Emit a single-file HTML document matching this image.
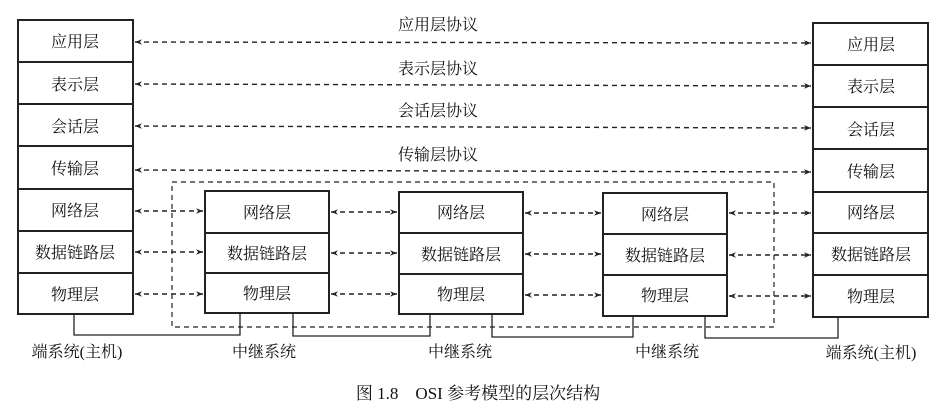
<!DOCTYPE html>
<html><head><meta charset="utf-8"><style>
html,body{margin:0;padding:0;background:#fff;}
svg text{font-family:"Liberation Serif","Noto Serif CJK SC","Noto Sans CJK SC",serif;fill:#111;}
</style></head><body>
<svg width="951" height="409" viewBox="0 0 951 409" xmlns="http://www.w3.org/2000/svg">
<defs>
<marker id="ah" viewBox="0 0 10 10" refX="10" refY="5" markerWidth="11" markerHeight="7" orient="auto-start-reverse" markerUnits="userSpaceOnUse"><path d="M0,1 L10,5 L0,9 L3,5 z" fill="#222"/></marker>
</defs>
<g stroke="#222" fill="none">
<rect x="18" y="20" width="115" height="294" stroke-width="2"/>
<path d="M18 62H133M18 104H133M18 146H133M18 189H133M18 231H133M18 273H133" stroke-width="2"/>
<rect x="813" y="23" width="115" height="294" stroke-width="2"/>
<path d="M813 65H928M813 107H928M813 149H928M813 192H928M813 233H928M813 275H928" stroke-width="2"/>
<rect x="205" y="191" width="124" height="122" stroke-width="2"/>
<path d="M205 233H329M205 273H329" stroke-width="2"/>
<rect x="399" y="192" width="124" height="122" stroke-width="2"/>
<path d="M399 233H523M399 274H523" stroke-width="2"/>
<rect x="603" y="193" width="124" height="123" stroke-width="2"/>
<path d="M603 234H727M603 275H727" stroke-width="2"/>
<rect x="172" y="182" width="602" height="145" stroke-width="1.2" stroke-dasharray="5,4"/>
<path d="M74 314V335H240V313M293 313V336H430V314M492 314V337H633V316M705 316V338H838V317" stroke-width="1.3"/>
<g stroke-width="1.4" stroke-dasharray="5,4" marker-start="url(#ah)" marker-end="url(#ah)">
<line x1="135" y1="42" x2="811" y2="43"/>
<line x1="135" y1="84" x2="811" y2="86"/>
<line x1="135" y1="126" x2="811" y2="128"/>
<line x1="135" y1="170" x2="811" y2="172"/>
<line x1="135" y1="211" x2="203" y2="211"/>
<line x1="135" y1="252" x2="203" y2="252"/>
<line x1="135" y1="294" x2="203" y2="294"/>
<line x1="331" y1="212" x2="397" y2="212"/>
<line x1="331" y1="253" x2="397" y2="253"/>
<line x1="331" y1="294" x2="397" y2="294"/>
<line x1="525" y1="213" x2="601" y2="213"/>
<line x1="525" y1="254" x2="601" y2="254"/>
<line x1="525" y1="295" x2="601" y2="295"/>
<line x1="729" y1="213" x2="811" y2="213"/>
<line x1="729" y1="255" x2="811" y2="255"/>
<line x1="729" y1="296" x2="811" y2="296"/>
</g>
</g>
<g font-size="16" text-anchor="middle">
<text x="75" y="47">应用层</text><text x="75" y="90">表示层</text><text x="75" y="132">会话层</text><text x="75" y="174">传输层</text><text x="75" y="216">网络层</text><text x="75" y="258">数据链路层</text><text x="75" y="300">物理层</text>
<text x="871" y="50">应用层</text><text x="871" y="92">表示层</text><text x="871" y="135">会话层</text><text x="871" y="177">传输层</text><text x="871" y="218">网络层</text><text x="871" y="260">数据链路层</text><text x="871" y="302">物理层</text>
<text x="267" y="218">网络层</text><text x="267" y="259">数据链路层</text><text x="267" y="299">物理层</text>
<text x="461" y="218">网络层</text><text x="461" y="260">数据链路层</text><text x="461" y="300">物理层</text>
<text x="665" y="220">网络层</text><text x="665" y="261">数据链路层</text><text x="665" y="301">物理层</text>
<text x="438" y="30">应用层协议</text><text x="438" y="74">表示层协议</text><text x="438" y="116">会话层协议</text><text x="438" y="160">传输层协议</text>
<text x="77" y="357">端系统(主机)</text><text x="264" y="357">中继系统</text><text x="460" y="357">中继系统</text><text x="667" y="357">中继系统</text><text x="871" y="358">端系统(主机)</text>
<text x="478" y="399" font-size="17">图 1.8　OSI 参考模型的层次结构</text>
</g>
</svg>
</body></html>
